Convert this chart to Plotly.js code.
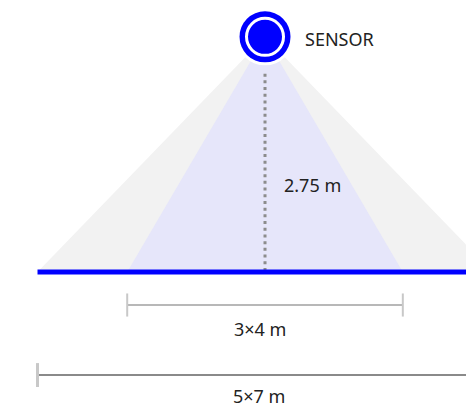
<!DOCTYPE html>
<html>
<head>
<meta charset="utf-8">
<script src="https://cdn.plot.ly/plotly-3.0.1.min.js"></script>
<style>html,body{margin:0;padding:0;background:#fff;}#chart{width:466px;height:409px;}</style>
</head>
<body>
<div id="chart"></div>
<script>
// ---- data (metres) ----
const sensorHeight = 2.75;               // mounting height
const coneNames = ["5×7 m", "3×4 m"];    // coverage areas
const coneHalfWidths = [3.5, 2.12];      // half width of coverage at floor
const coneColors = ["#f2f2f2", "#e6e6fa"];
const heightLabel = "2.75 m";
const sensorLabel = "SENSOR";

// ---- layout helpers (positions, not data) ----
const dimY = [-1.205, -0.386];           // y of dimension lines for each cone
const dimTextY = [-1.455, -0.67];
const font = {family: "Noto Sans, sans-serif", size: 18, color: "#222"};

const traces = [];
// coverage cones
coneHalfWidths.forEach((hw, i) => {
  traces.push({
    type: "scatter", mode: "lines",
    x: [0, -hw, hw, 0], y: [sensorHeight, 0, 0, sensorHeight],
    fill: "toself", fillcolor: coneColors[i],
    line: {width: 0, color: coneColors[i]}, hoverinfo: "skip"
  });
});
// dotted height line
traces.push({
  type: "scatter", mode: "lines", x: [0, 0], y: [sensorHeight - 0.43, 0.02],
  line: {color: "#8c8c8c", width: 3, dash: "3px,3.7px"}, hoverinfo: "skip"
});
// floor
traces.push({
  type: "scatter", mode: "lines", x: [-coneHalfWidths[0], coneHalfWidths[0]], y: [0, 0],
  line: {color: "#0000ff", width: 5}, hoverinfo: "skip"
});
// dimension lines
coneHalfWidths.forEach((hw, i) => {
  const y = dimY[i];
  traces.push({
    type: "scatter", mode: "lines", x: [-hw, hw], y: [y, y],
    line: {color: i === 0 ? "#8a8a8a" : "#a0a0a0", width: i === 0 ? 2 : 1.5}, hoverinfo: "skip"
  });
  const tick = i === 0 ? 0.14 : 0.135;
  [-hw, hw].forEach(xx => {
    traces.push({
      type: "scatter", mode: "lines", x: [xx, xx], y: [y + tick, y - tick],
      line: {color: "#c8c8c8", width: i === 0 ? 3 : 2}, hoverinfo: "skip"
    });
  });
});
// sensor symbol
traces.push({type: "scatter", mode: "markers", x: [0], y: [sensorHeight],
  marker: {size: 57, color: "#ffffff"}, hoverinfo: "skip"});
traces.push({type: "scatter", mode: "markers", x: [0], y: [sensorHeight],
  marker: {size: 51, color: "#0000ff"}, hoverinfo: "skip"});
traces.push({type: "scatter", mode: "markers", x: [0], y: [sensorHeight],
  marker: {size: 37, color: "#0000ff", line: {color: "#ffffff", width: 3}}, hoverinfo: "skip"});

const annotations = [
  {x: 0.585, y: sensorHeight - 0.02, text: sensorLabel, xanchor: "left", yanchor: "middle"},
  {x: 0.26, y: sensorHeight * 0.37, text: heightLabel, xanchor: "left", yanchor: "middle"},
  {x: -0.08, y: dimTextY[1], text: coneNames[1], xanchor: "center", yanchor: "middle"},
  {x: -0.1, y: dimTextY[0], text: coneNames[0], xanchor: "center", yanchor: "middle"}
].map(a => Object.assign({showarrow: false, font: font, xref: "x", yref: "y"}, a));

const layout = {
  width: 466, height: 409,
  margin: {l: 0, r: 0, t: 0, b: 0},
  paper_bgcolor: "#ffffff", plot_bgcolor: "#ffffff",
  showlegend: false,
  xaxis: {range: [-4.077, 3.092], visible: false, fixedrange: true},
  yaxis: {range: [-1.602, 3.181], visible: false, fixedrange: true},
  annotations: annotations
};

Plotly.newPlot("chart", traces, layout, {displayModeBar: false, staticPlot: true});
</script>
</body>
</html>
